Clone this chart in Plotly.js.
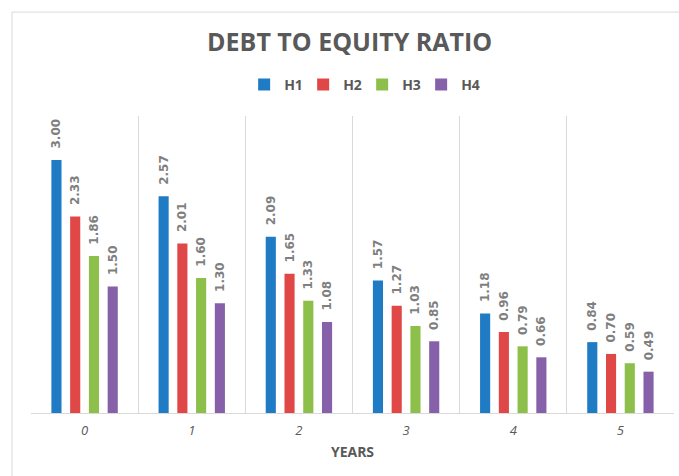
<!DOCTYPE html>
<html>
<head>
<meta charset="utf-8">
<script src="https://cdn.plot.ly/plotly-3.0.1.min.js"></script>
<style>html,body{margin:0;padding:0;background:#fff;}#chart{width:679px;height:476px;}</style>
</head>
<body>
<div id="chart"></div>
<script>
const years = ['0', '1', '2', '3', '4', '5'];
const seriesNames = ['H1', 'H2', 'H3', 'H4'];
const h1 = [3.00, 2.57, 2.09, 1.57, 1.18, 0.84];
const h2 = [2.33, 2.01, 1.65, 1.27, 0.96, 0.70];
const h3 = [1.86, 1.60, 1.33, 1.03, 0.79, 0.59];
const h4 = [1.50, 1.30, 1.08, 0.85, 0.66, 0.49];
const colors = ['#1f7cc4', '#e04848', '#8cc04a', '#8660a8'];
const values = [h1, h2, h3, h4];

const data = values.map((v, i) => ({
  type: 'bar',
  name: seriesNames[i],
  x: years,
  y: v,
  marker: {color: colors[i]},
  text: v.map(d => d.toFixed(2)),
  texttemplate: '\u00a0\u00a0%{text}',
  textposition: 'outside',
  textangle: -90,
  constraintext: 'none',
  cliponaxis: false,
  textfont: {family: 'DejaVu Sans', size: 12, color: '#7f7f7f', weight: 'bold'},
  hoverinfo: 'x+y'
}));

const layout = {
  width: 679, height: 476,
  margin: {l: 31, r: 5, t: 116, b: 63},
  paper_bgcolor: '#fff', plot_bgcolor: '#fff',
  font: {family: 'Open Sans', color: '#595959'},
  title: {text: 'DEBT TO EQUITY RATIO', x: 0.515, xanchor: 'center', y: 0.912, yanchor: 'middle',
          font: {family: 'Open Sans', size: 25, color: '#595959', weight: 'bold'}},
  showlegend: true,
  legend: {orientation: 'h', x: 0.515, xanchor: 'center', y: 1.105, yanchor: 'middle',
           font: {family: 'Open Sans', size: 14, color: '#595959', weight: 'bold'},
           itemwidth: 30, entrywidth: 14, entrywidthmode: 'pixels', tracegroupgap: 0},
  barmode: 'group',
  bargap: 0.30,
  bargroupgap: 0.46,
  xaxis: {
    type: 'category',
    tickson: 'boundaries',
    showgrid: true, gridcolor: '#d9d9d9', gridwidth: 1,
    showline: true, linecolor: '#d9d9d9', linewidth: 1,
    ticks: '', zeroline: false, ticklabelstandoff: 5,
    tickfont: {family: 'Open Sans', size: 13, color: '#595959', style: 'italic'},
    title: {text: 'YEARS', standoff: 9, font: {family: 'Open Sans', size: 14, color: '#595959', weight: 'bold'}}
  },
  yaxis: {visible: false, range: [0, 3.52], fixedrange: true},
  shapes: [{
    type: 'rect', xref: 'paper', yref: 'paper',
    x0: -0.0295, x1: 1.2, y0: -0.4, y1: 1.35,
    line: {color: '#d9d9d9', width: 1}, fillcolor: 'rgba(0,0,0,0)', layer: 'below'
  }]
};

Plotly.newPlot('chart', data, layout, {displayModeBar: false, staticPlot: true});
</script>
</body>
</html>
